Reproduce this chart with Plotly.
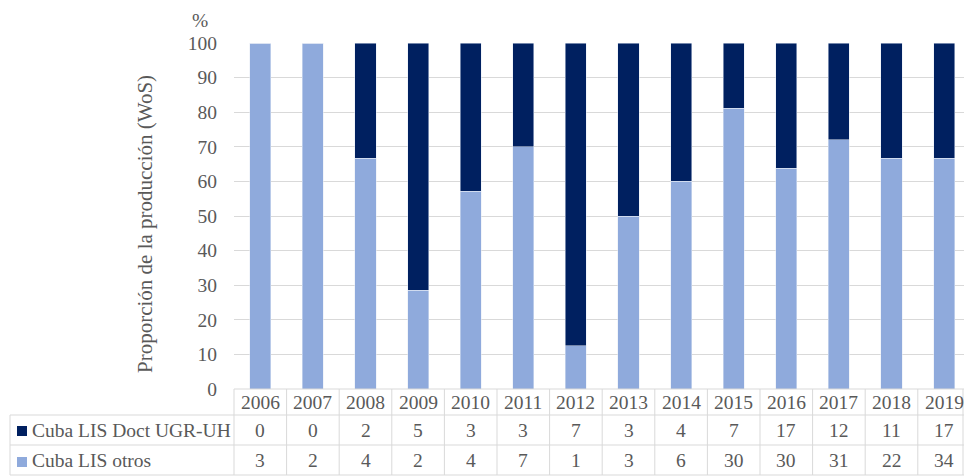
import plotly.graph_objects as go

years = ["2006", "2007", "2008", "2009", "2010", "2011", "2012", "2013", "2014", "2015", "2016", "2017", "2018", "2019"]
doct = [0, 0, 2, 5, 3, 3, 7, 3, 4, 7, 17, 12, 11, 17]
otros = [3, 2, 4, 2, 4, 7, 1, 3, 6, 30, 30, 31, 22, 34]
series_names = ["Cuba LIS Doct UGR-UH", "Cuba LIS otros"]
y_ticks = [0, 10, 20, 30, 40, 50, 60, 70, 80, 90, 100]

W, H = 964, 476
DARK = "#002060"
LIGHT = "#8FAADC"
TXT = "#595959"
GRID = "#D9D9D9"
FONT = "Liberation Serif"
FS = 19.5

tot = [a + b for a, b in zip(doct, otros)]
p_otros = [100 * b / t for b, t in zip(otros, tot)]
p_doct = [100 * a / t for a, t in zip(doct, tot)]

xs = list(range(len(years)))
left_px, col_w = 234, 52.6
x_end = (W - left_px) / col_w - 0.5

def px(x):
    return x / W

def py(y):
    return 1 - y / H

fig = go.Figure()
fig.add_trace(go.Bar(x=xs, y=p_otros, name=series_names[1], marker_color=LIGHT, width=0.4))
fig.add_trace(go.Bar(x=xs, y=p_doct, name=series_names[0], marker_color=DARK, width=0.4))

shapes = []
ann = []
row_y = [389, 415, 445, 475]
shapes.append(dict(type="line", xref="paper", yref="paper", x0=px(left_px), x1=1, y0=py(389), y1=py(389),
                   line=dict(color=GRID, width=1)))
for yy in row_y[1:]:
    shapes.append(dict(type="line", xref="paper", yref="paper", x0=px(10), x1=1, y0=py(yy), y1=py(yy),
                       line=dict(color=GRID, width=1)))
shapes.append(dict(type="line", xref="paper", yref="paper", x0=px(10), x1=px(10), y0=py(415), y1=py(475),
                   line=dict(color=GRID, width=1)))
for i in range(len(years) + 1):
    xx = left_px + i * col_w
    if xx > W - 1:
        xx = W - 1
    shapes.append(dict(type="line", xref="paper", yref="paper", x0=px(xx), x1=px(xx), y0=py(389), y1=py(475),
                       line=dict(color=GRID, width=1)))

shapes.append(dict(type="rect", xref="paper", yref="paper", x0=px(17), x1=px(27), y0=py(436), y1=py(426),
                   fillcolor=DARK, line=dict(width=0)))
shapes.append(dict(type="rect", xref="paper", yref="paper", x0=px(17), x1=px(27), y0=py(467), y1=py(457),
                   fillcolor=LIGHT, line=dict(width=0)))

fnt = dict(family=FONT, size=FS, color=TXT)
for i, yr in enumerate(years):
    ann.append(dict(x=i, xref="x", y=py(402), yref="paper", text=yr, showarrow=False, font=fnt,
                    xanchor="center", yanchor="middle"))
    ann.append(dict(x=i, xref="x", y=py(430), yref="paper", text=str(doct[i]), showarrow=False, font=fnt,
                    xanchor="center", yanchor="middle"))
    ann.append(dict(x=i, xref="x", y=py(460), yref="paper", text=str(otros[i]), showarrow=False, font=fnt,
                    xanchor="center", yanchor="middle"))
ann.append(dict(x=px(30), xref="paper", y=py(430), yref="paper", text=series_names[0], showarrow=False,
                font=fnt, xanchor="left", yanchor="middle"))
ann.append(dict(x=px(30), xref="paper", y=py(460), yref="paper", text=series_names[1], showarrow=False,
                font=fnt, xanchor="left", yanchor="middle"))
ann.append(dict(x=px(145), xref="paper", y=py(224), yref="paper", text="Proporción de la producción (WoS)",
                showarrow=False, textangle=-90, font=dict(family=FONT, size=21, color=TXT),
                xanchor="center", yanchor="middle"))
ann.append(dict(x=px(200), xref="paper", y=py(21), yref="paper", text="%", showarrow=False,
                font=dict(family=FONT, size=FS, color=TXT), xanchor="center", yanchor="middle"))

fig.update_layout(
    width=W, height=H,
    barmode="stack",
    showlegend=False,
    hovermode=False,
    margin=dict(l=0, r=0, t=0, b=0, autoexpand=False),
    paper_bgcolor="white", plot_bgcolor="white",
    xaxis=dict(domain=[px(left_px), 1], range=[-0.5, x_end], showticklabels=False, showgrid=False,
               zeroline=False, showline=False, ticks="", automargin=False),
    yaxis=dict(domain=[py(389), py(43)], range=[0, 100], tickvals=y_ticks, showgrid=True, gridcolor=GRID,
               gridwidth=1, zeroline=False, showline=False, ticks="", ticklabelstandoff=16, automargin=False,
               tickfont=dict(family=FONT, size=FS, color=TXT)),
    shapes=shapes,
    annotations=ann,
)

post = (
    "document.documentElement.style.overflow='hidden';"
    "document.body.style.margin='0';document.body.style.overflow='hidden';"
    "var d=document.getElementById('{plot_id}');"
    "d.style.position='fixed';d.style.top='0px';d.style.left='0px';"
)
fig.write_html("out.html", config={"displayModeBar": False, "responsive": False}, post_script=post)
